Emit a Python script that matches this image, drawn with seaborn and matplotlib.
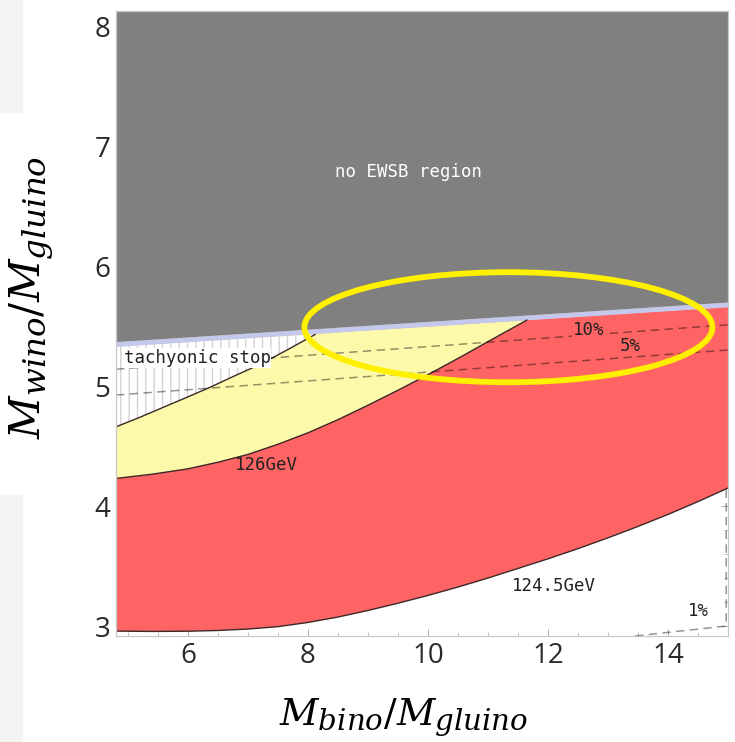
import numpy as np
import pandas as pd
import matplotlib
matplotlib.use("Agg")
import matplotlib.pyplot as plt
import seaborn as sns
from matplotlib.patches import Ellipse, Rectangle

# ---------------- data ----------------
x_range = [4.8, 15.0]
ewsb_y = [5.37, 5.70]          # lower edge of the "no EWSB" region
band_y = [5.33, 5.66]          # lower edge of the light band below it
tach_x = [4.8, 5.2, 5.6, 6.0, 6.37, 6.8, 7.2, 7.65, 8.12]
tach_y = [4.66, 4.74, 4.825, 4.91, 4.99, 5.09, 5.18, 5.30, 5.43]
h126_x = [4.8, 5.4, 6.0, 6.5, 7.0, 7.5, 8.0, 8.5, 9.0, 9.5, 10.0, 10.5, 11.0, 11.65]
h126_y = [4.23, 4.265, 4.31, 4.365, 4.43, 4.515, 4.61, 4.72, 4.84, 4.965, 5.095, 5.23, 5.37, 5.55]
h1245_x = [4.8, 5.4, 6.0, 6.5, 7.0, 7.5, 8.0, 8.5, 9.0, 9.5, 10.0, 10.5, 11.0,
           11.5, 12.0, 12.5, 13.0, 13.5, 14.0, 14.5, 15.0]
h1245_y = [2.958, 2.955, 2.957, 2.963, 2.975, 2.995, 3.03, 3.075, 3.13, 3.19, 3.255,
           3.325, 3.40, 3.48, 3.56, 3.645, 3.735, 3.83, 3.93, 4.037, 4.15]
tune10_y = [5.14, 5.51]
tune5_y = [4.925, 5.30]
tune1_x = [13.45, 14.97, 14.97]
tune1_y = [2.917, 3.0, 4.14]
xticks = [6, 8, 10, 12, 14]
yticks = [3, 4, 5, 6, 7, 8]
ylim = [2.917, 8.125]

sns.set_theme(style="white")
plt.rcParams["font.family"] = ["Open Sans", "DejaVu Sans"]
plt.rcParams["mathtext.fontset"] = "dejavuserif"
plt.rcParams["hatch.linewidth"] = 1.0
try:  # slightly larger subscripts, closer to the Cambria Math look
    import matplotlib._mathtext as _mt
    _mt.SHRINK_FACTOR = 0.78
except Exception:
    pass

fig = plt.figure(figsize=(7.35, 7.42), dpi=100)
# screenshot artefacts on the left border
fig.patches.append(Rectangle((0, 1 - 112 / 742), 22 / 735, 112 / 742,
                             transform=fig.transFigure, color="#f3f3f3", zorder=0))
fig.patches.append(Rectangle((0, 0), 22 / 735, 1 - 495 / 742,
                             transform=fig.transFigure, color="#f3f3f3", zorder=0))

ax = fig.add_axes([116 / 735, 1 - 636 / 742, 612 / 735, 625 / 742])
ax.set_xlim(*x_range)
ax.set_ylim(*ylim)

RED = "#ff6464"
YEL = "#fdf9aa"
GRAY = "#808080"
BAND = "#c4c8ec"

# red: between 124.5 GeV curve and the band
ax.fill(list(h1245_x) + [x_range[1], x_range[0]],
        list(h1245_y) + [band_y[1], band_y[0]], color=RED, lw=0, zorder=1)
# yellow: between 126 GeV curve and the band
ax.fill(list(h126_x) + [x_range[0]], list(h126_y) + [band_y[0]],
        color=YEL, lw=0, zorder=2)
# tachyonic stop (white, vertical hatching)
ax.fill(list(tach_x) + [x_range[0]], list(tach_y) + [band_y[0]],
        facecolor="white", edgecolor="#d2d2d2", hatch="||", lw=0, zorder=3)
# band and no-EWSB region
ax.fill_between(x_range, band_y, ewsb_y, color=BAND, lw=0, zorder=4)
ax.fill_between(x_range, ewsb_y, [ylim[1]] * 2, color=GRAY, lw=0, zorder=4)

# boundary lines through seaborn
bnd = pd.concat([
    pd.DataFrame({"x": tach_x, "y": tach_y, "c": "tach"}),
    pd.DataFrame({"x": h126_x, "y": h126_y, "c": "126"}),
    pd.DataFrame({"x": h1245_x, "y": h1245_y, "c": "124.5"}),
])
sns.lineplot(data=bnd, x="x", y="y", units="c", estimator=None, sort=False,
             color="#3c2828", lw=1.0, ax=ax, zorder=5)

# fine-tuning dashed contours
dash = dict(color="black", alpha=0.42, lw=1.1, dashes=(5.5, 3.5), zorder=6)
sns.lineplot(x=x_range, y=tune10_y, ax=ax, **dash)
sns.lineplot(x=x_range, y=tune5_y, ax=ax, **dash)
sns.lineplot(x=tune1_x, y=tune1_y, sort=False, estimator=None, ax=ax, **dash)

# labels
mono = dict(family="DejaVu Sans Mono", fontsize=12.5, ha="center", va="center", zorder=8)
ax.text(9.67, 6.78, "no EWSB region", color="white", **mono)
ax.text(6.15, 5.235, "tachyonic stop", color="#222222",
        bbox=dict(facecolor="white", edgecolor="none", pad=0.5), **mono)
ax.text(7.3, 4.34, "126GeV", color="#222222", **mono)
ax.text(12.1, 3.33, "124.5GeV", color="#222222", **mono)
ax.text(12.68, 5.465, "10%", color="#222222",
        bbox=dict(facecolor=RED, edgecolor="none", pad=0.5), **mono)
ax.text(13.37, 5.33, "5%", color="#222222", **mono)
ax.text(14.5, 3.125, "1%", color="#222222", **mono)

# highlight ellipse
ax.add_patch(Ellipse((11.34, 5.49), 6.8, 0.917, fill=False, edgecolor="#fff000",
                     lw=4.2, zorder=9, clip_on=False))

# axes styling
ax.set_xticks(xticks)
ax.set_yticks(yticks)
ax.set_xticks(np.arange(5.0, 15.01, 0.5), minor=True)
ax.set_yticks(np.arange(3.0, 8.01, 0.2), minor=True)
ax.tick_params(which="both", direction="in", color="#b4b4b4", top=True, right=True,
               bottom=True, left=True, zorder=10)
ax.tick_params(which="major", length=5, width=0.8, labelsize=20, labelcolor="#2a2a2a")
ax.tick_params(which="minor", length=3, width=0.6)
ax.tick_params(axis="y", pad=4)
ax.tick_params(axis="x", pad=4)
for s in ax.spines.values():
    s.set_color("#c8c8c8")
    s.set_linewidth(0.9)
    s.set_zorder(10)
ax.set_xlabel("")
ax.set_ylabel("")

fig.text(403 / 735, 1 - 717 / 742, r"$M_{bino}/M_{gluino}$", fontsize=27,
         ha="center", va="center", color="black")
fig.text(31 / 735, 1 - 297 / 742, r"$M_{wino}/M_{gluino}$", fontsize=30,
         ha="center", va="center", rotation=90, color="black")

fig.savefig("out.png", dpi=100)
